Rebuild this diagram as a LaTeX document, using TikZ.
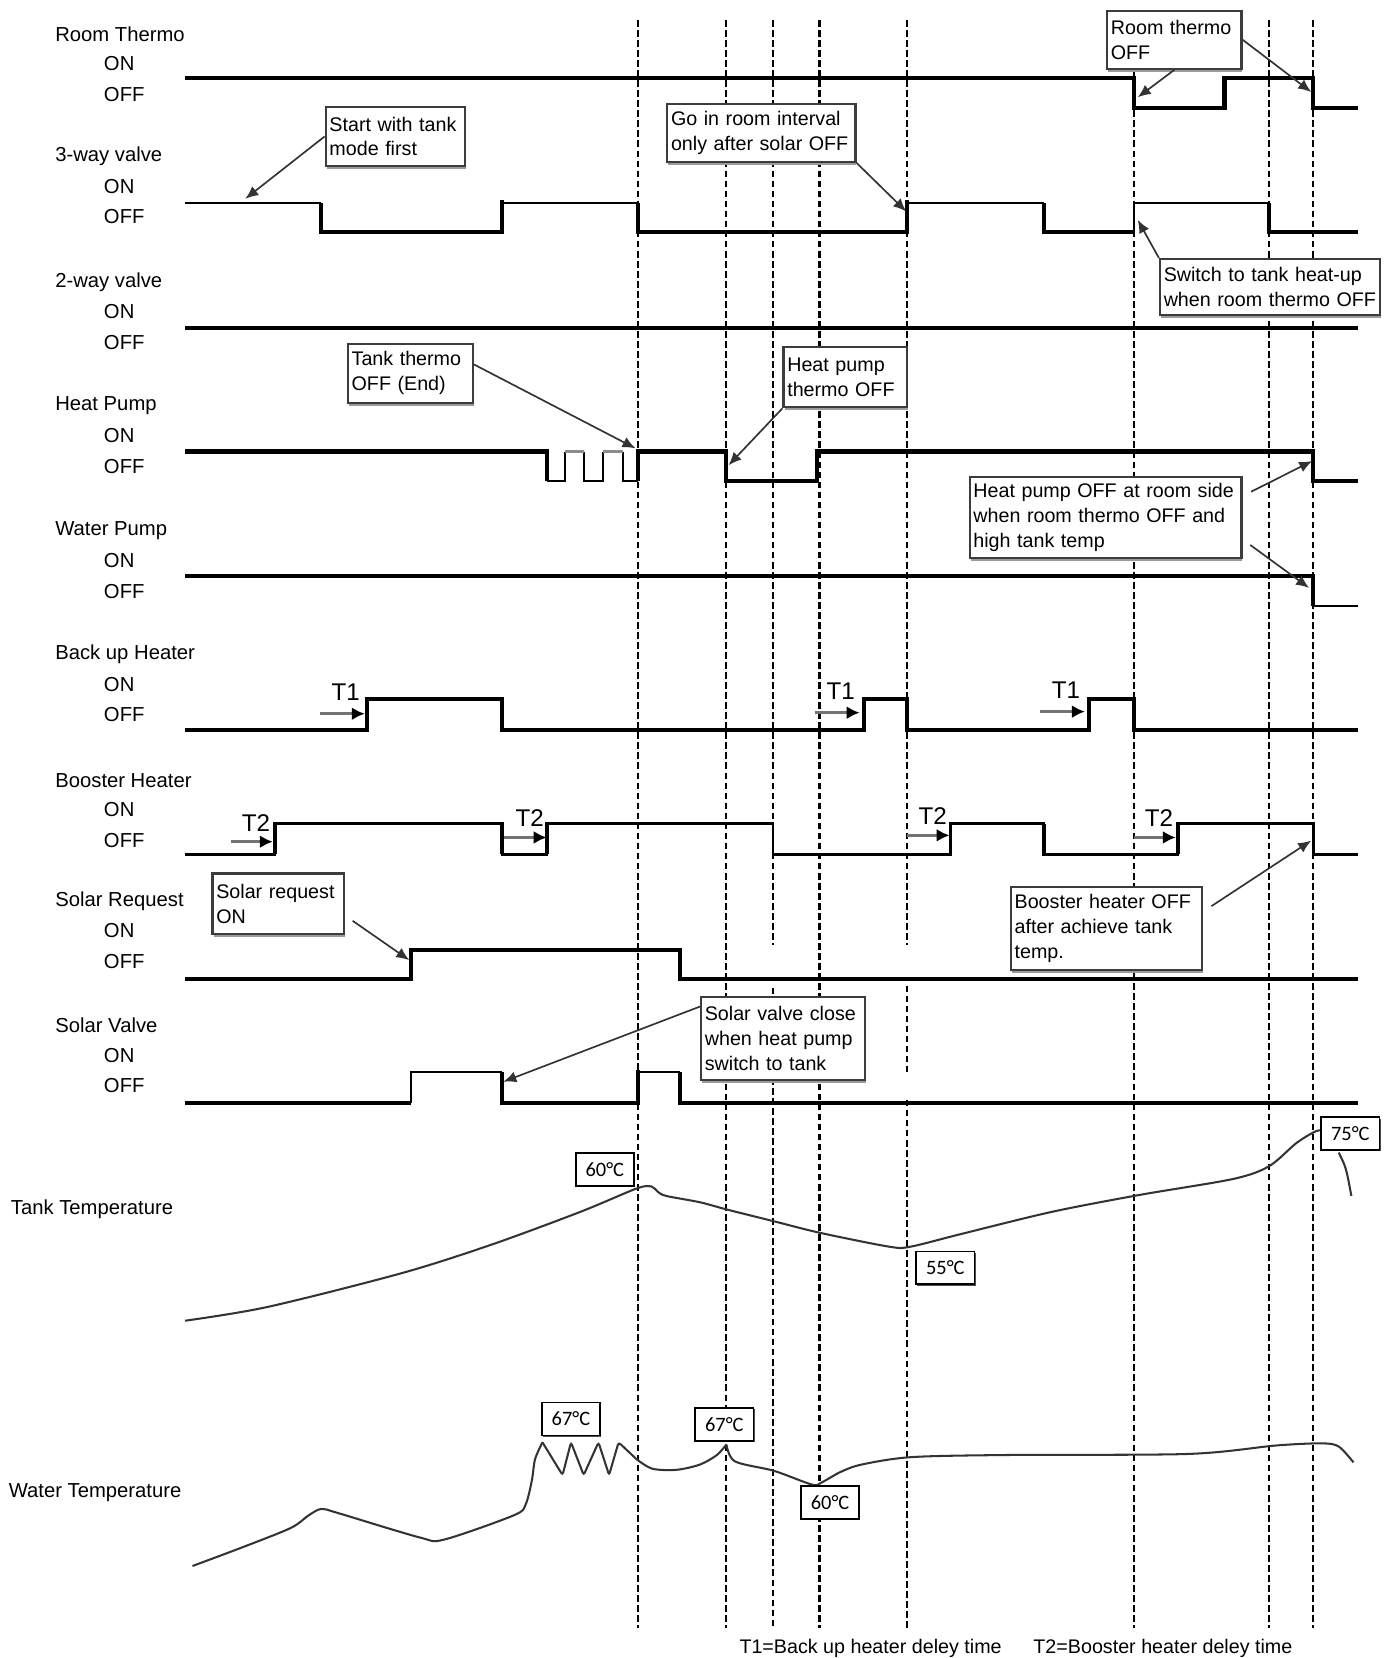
\documentclass[tikz,border=0pt]{standalone}
\usepackage{fontspec}
\setmainfont{Liberation Sans}
\newfontfamily\tempfont{Carlito}
\usetikzlibrary{arrows.meta,shadows}
\definecolor{NoteEdge}{HTML}{3C3C3C}
\definecolor{NoteShade}{HTML}{9A9A9A}
\definecolor{CurveInk}{HTML}{333333}
\tikzset{>=Stealth,every node/.style={font=\fontsize{10.6}{13.4}\selectfont},
 siglab/.style={anchor=west,inner sep=0pt,font=\fontsize{10.9}{13}\selectfont},
 wave/.style={line width=2.2pt},
 wavethin/.style={line width=1.1pt},wavemid/.style={line width=1.4pt},
 guide/.style={line width=1.1pt,dash pattern=on 3.6pt off 1.8pt},
 note/.style={anchor=north west,draw=NoteEdge,line width=1.2pt,fill=white,align=left,
 inner xsep=2pt,inner ysep=2pt,drop shadow={shadow xshift=0.5pt,shadow yshift=-1.6pt,
 fill=NoteShade,opacity=1}},
 tbox/.style={draw=black,line width=0.9pt,fill=white,minimum width=1.1cm,minimum height=0.62cm,
 font=\tempfont\fontsize{11}{13}\selectfont,drop shadow={shadow xshift=0.6pt,
 shadow yshift=-0.8pt,fill=black!70,opacity=1}},
 callout/.style={draw=black!80,line width=0.9pt,-{Latex[length=7pt,width=6pt]}},
 tarrow/.style={draw=black!55,line width=1.5pt,-{Latex[length=7pt,width=7pt,color=black]}},
 tlab/.style={font=\fontsize{13}{15}\selectfont,inner sep=0pt},
 temp/.style={draw=CurveInk,line width=1.1pt}}
\begin{document}
\begin{tikzpicture}[x=0.02cm,y=-0.02cm]
\useasboundingbox (0,0) rectangle (1314,1568);
% time marks
\foreach \x in {603,687,775,1072,1200,1242}\draw[guide] (\x,19)--(\x,1540);
\foreach \x/\a/\b in {731/19/894,731/934/1540,858/19/894,858/932/1014,858/1040/1540}
 \draw[guide] (\x,\a)--(\x,\b);
% signal names
\foreach \n/\lab/\y in {rt/Room Thermo/32,tv/3-way valve/148,wv/2-way valve/267,
 hp/Heat Pump/384,wp/Water Pump/502,bu/Back up Heater/619,bo/Booster Heater/738,
 sr/Solar Request/852,sv/Solar Valve/970}
 {\node[siglab] (\n) at (52,\y) {\lab};
  \node[siglab] (\n-on) at (98,\y+28) {ON};
  \node[siglab] (\n-off) at (98,\y+57) {OFF};}
\node[siglab] (tank) at (10,1144) {Tank Temperature};
\node[siglab] (water) at (8,1412) {Water Temperature};
% room thermo
\draw[wave] (175,74)--(1072,74)--(1072,102)--(1158,102)--(1158,74)--(1242,74)--(1242,102)--(1284,102);
% 3-way valve
\draw[wavethin] (175,192)--(304,192) (475,192)--(603,192) (858,192)--(987,192) (1072,219)--(1072,192)--(1200,192);
\draw[wave] (304,192)--(304,219)--(475,219)--(475,189) (603,192)--(603,219)--(858,219)--(858,189)
 (987,192)--(987,219)--(1072,219) (1200,192)--(1200,219)--(1284,219);
% 2-way valve
\draw[wave] (175,310)--(1284,310);
% heat pump
\draw[wave] (175,427)--(517,427)--(517,455) (603,455)--(603,427)--(687,427)--(687,455)--(773,455)--(773,427)--(1242,427)--(1242,455)--(1284,455);
\draw[wavethin] (517,455)--(534,455)--(534,427) (552,427)--(552,455)--(570,455)--(570,427) (589,427)--(589,455)--(603,455);
\draw[wavethin,black!45] (534,427)--(552,427) (570,427)--(589,427);
% water pump
\draw[wave] (175,545)--(1242,545)--(1242,573);
\draw[wavethin] (1242,573)--(1284,573);
% back up heater
\draw[wave] (175,690)--(347,690)--(347,661)--(475,661)--(475,690)--(817,690)--(817,661)--(858,661)--(858,690)--(1030,690)--(1030,661)--(1072,661)--(1072,690)--(1284,690);
% booster heater
\draw[wavemid] (175,808)--(260,808)--(260,779)--(475,779)--(475,808)--(517,808)--(517,779)--(731,779)--(731,808)--(899,808)--(899,779)--(987,779)--(987,808)--(1114,808)--(1114,779)--(1242,779)--(1242,808)--(1284,808);
\draw[wave] (260,808)--(260,777) (475,779)--(475,808) (517,808)--(517,777) (987,779)--(987,808) (1114,808)--(1114,777);
% solar request
\draw[wave] (175,926)--(389,926)--(389,898)--(643,898)--(643,926)--(1284,926);
% solar valve
\draw[wave] (175,1043)--(389,1043) (475,1014)--(475,1043)--(603,1043)--(603,1012) (643,1014)--(643,1043)--(1284,1043);
\draw[wavethin] (389,1043)--(389,1014)--(475,1014) (603,1014)--(643,1014);
% delay marks
\foreach \i/\x/\y in {1/303/675,2/771/674,3/984/673}
 {\coordinate (t1s\i) at (\x,\y); \coordinate (t1e\i) at (\x+42,\y);
  \node[tlab] (t1l\i) at (\x+24,\y-20) {T1};
  \draw[tarrow] (t1s\i)--(t1e\i);}
\foreach \i/\x/\y in {1/218/796,2/477/792,3/858/790,4/1072/792}
 {\coordinate (t2s\i) at (\x,\y); \coordinate (t2e\i) at (\x+40,\y);
  \node[tlab] (t2l\i) at (\x+24,\y-18) {T2};
  \draw[tarrow] (t2s\i)--(t2e\i);}
% temperatures
\draw[temp] plot[smooth,tension=0.5] coordinates {(175,1249) (253,1236) (380,1204) (465,1177)
 (549,1146) (602,1124) (616,1122) (622,1127) (630,1131) (662,1137) (688,1144) (732,1155)
 (776,1166) (841,1179) (861,1179) (909,1167) (995,1146) (1078,1130) (1166,1115) (1200,1103)
 (1226,1081) (1244,1070) (1252,1069)};
\draw[temp] (1266,1090) .. controls (1273,1104) .. (1278,1131);
\draw[temp] plot[smooth,tension=0.5] coordinates {(182,1481) (230,1463) (275,1445) (292,1433)
 (304,1427) (320,1431) (397,1454) (420,1456) (486,1433) (497,1423) (503,1400) (506,1380) (513,1364)};
\draw[temp,rounded corners=1.5pt] (513,1364)--(532,1395)--(540,1364)--(552,1395)--(566,1364)--(576,1395)--(585,1364)--(602,1380);
\draw[temp] plot[smooth,tension=0.5] coordinates {(602,1380) (617,1389) (640,1390) (662,1385)
 (678,1376) (687,1366)};
\draw[temp] plot[smooth,tension=0.5] coordinates {(687,1366) (695,1382) (732,1391) (768,1404)
 (777,1402) (795,1392) (815,1385) (862,1378) (953,1376) (1124,1375) (1207,1367) (1250,1365)
 (1266,1368) (1280,1383)};
\node[tbox] (tTank60) at (572,1106) {60°C};
\node[tbox] (tTank55) at (894,1199) {55°C};
\node[tbox] (tTank75) at (1277,1072) {75°C};
\node[tbox] (tWat67a) at (540,1342) {67°C};
\node[tbox] (tWat67b) at (685,1347) {67°C};
\node[tbox] (tWat60) at (785,1421) {60°C};
% notes
\node[note,text width=2.50cm,minimum height=1.12cm] (nStart) at (307,100) {Start with tank\\mode first};
\node[note,text width=3.42cm,minimum height=1.10cm] (nGo) at (630,97) {Go in room interval\\only after solar OFF};
\node[note,text width=2.40cm,minimum height=1.10cm] (nRoom) at (1046,9) {Room thermo\\OFF};
\node[note,text width=4.02cm,minimum height=1.06cm] (nSwitch) at (1096,244) {Switch to tank heat-up\\when room thermo OFF};
\node[note,text width=2.22cm,minimum height=1.12cm] (nTank) at (328,324) {Tank thermo\\OFF (End)};
\node[note,text width=2.20cm,minimum height=1.14cm] (nHPth) at (740,327) {Heat pump\\thermo OFF};
\node[note,text width=5.00cm,minimum height=1.54cm] (nHProom) at (916,450) {Heat pump OFF at room side\\when room thermo OFF and\\high tank temp};
\node[note,text width=2.34cm,minimum height=1.14cm] (nSolReq) at (200,825) {Solar request\\ON};
\node[note,text width=3.48cm,minimum height=1.56cm] (nBoost) at (955,838) {Booster heater OFF\\after achieve tank\\temp.};
\node[note,text width=2.96cm,minimum height=1.56cm] (nSolVal) at (662,942) {Solar valve close\\when heat pump\\switch to tank};
% pointers
\coordinate (aStart) at (232,188);
\coordinate (aGo) at (857,200);
\coordinate (aRoom1) at (1076,92);
\coordinate (aRoom2) at (1240,87);
\coordinate (aSwitch) at (1076,208);
\coordinate (aTank) at (601,424);
\coordinate (aHPth) at (689,440);
\coordinate (aHP1) at (1241,436);
\coordinate (aHP2) at (1238,556);
\coordinate (aBoost) at (1240,795);
\coordinate (aSolReq) at (387,908);
\coordinate (aSolVal) at (476,1023);
\draw[callout] (nStart.west)--(aStart);
\draw[callout] (nGo.south east)--(aGo);
\draw[callout] (nRoom.south)--(aRoom1);
\draw[callout] (nRoom.east)--(aRoom2);
\draw[callout] (nSwitch.north west)--(aSwitch);
\draw[callout] (nTank.8)--(aTank);
\draw[callout] (nHPth.south west)--(aHPth);
\draw[callout,shorten <=0.18cm] (nHProom.9)--(aHP1);
\draw[callout,shorten <=0.18cm] (nHProom.-9)--(aHP2);
\draw[callout,shorten <=0.18cm] (nBoost.10)--(aBoost);
\draw[callout,shorten <=0.18cm] (nSolReq.-10)--(aSolReq);
\draw[callout] (nSolVal.159)--(aSolVal);
% key
\node[anchor=base west,inner sep=0pt] (keyT1) at (699,1564) {T1=Back up heater deley time};
\node[anchor=base west,inner sep=0pt] (keyT2) at (977,1564) {T2=Booster heater deley time};
\end{tikzpicture}
\end{document}
